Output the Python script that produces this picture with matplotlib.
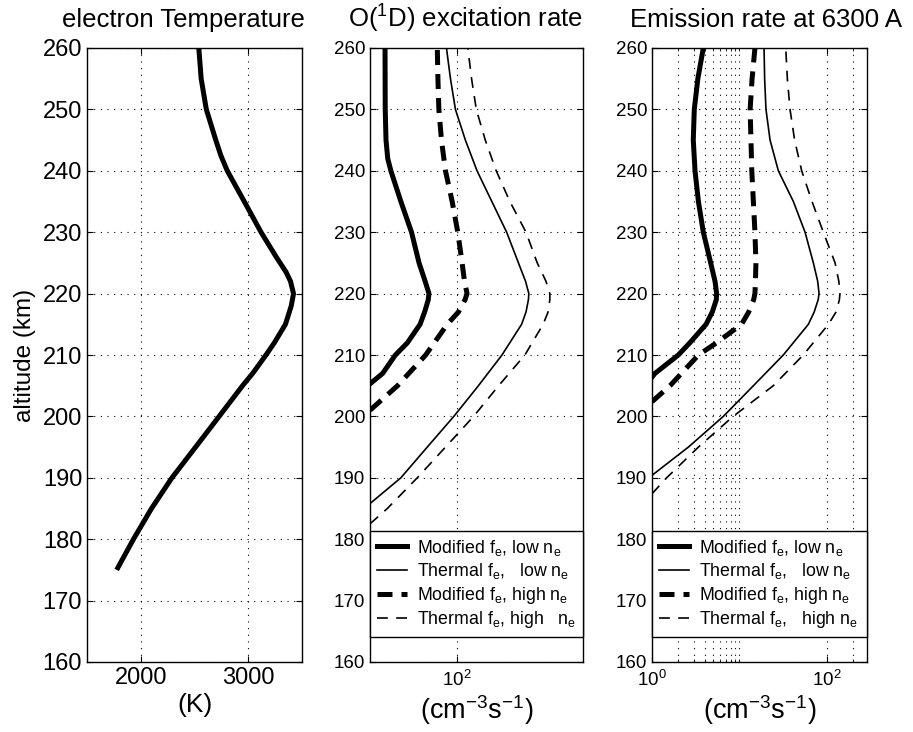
import numpy as np
import matplotlib
matplotlib.use('Agg')
import matplotlib.pyplot as plt
from matplotlib.ticker import FixedLocator, NullFormatter, LogFormatterMathtext, NullLocator

plt.rcParams['font.family'] = ['Liberation Sans', 'DejaVu Sans']
plt.rcParams['mathtext.fontset'] = 'custom'
plt.rcParams['mathtext.rm'] = 'Liberation Sans'
plt.rcParams['mathtext.it'] = 'Liberation Sans:italic'
plt.rcParams['mathtext.bf'] = 'Liberation Sans:bold'

# electron temperature profile (K)
alt_te = [175, 180, 185, 190, 195, 200, 205, 207, 210, 212, 215, 218, 220, 222, 223.5, 226, 230, 235, 240, 242.5, 245, 250, 255, 260]
te = [1776, 1932, 2100, 2290, 2510, 2729, 2947, 3041, 3165, 3243, 3346, 3400, 3421, 3393, 3352, 3259, 3119, 2963, 2805, 2745, 2698, 2610, 2562, 2540]

# O(1D) excitation rate (cm^-3 s^-1)
alt_exc_mod_low = [205.3, 207, 210, 212, 215, 217, 219, 220, 222, 225, 230, 235, 240, 242, 245, 250, 260]
exc_mod_low = [26, 31.6, 38.5, 46.4, 56.4, 60.5, 64, 64.7, 61, 55.5, 49.4, 41.9, 35.9, 34.2, 33.3, 32.9, 32.8]
alt_exc_th_low = [185.8, 190, 195, 200, 205, 210, 215, 217, 219, 220, 222, 225, 230, 235, 240, 245, 250, 255, 260]
exc_th_low = [26, 41.9, 63, 95, 139, 200, 271, 290, 301, 303, 288, 258, 215, 171, 136, 113.6, 97.4, 90.2, 84.8]
alt_exc_mod_high = [201, 205, 210, 215, 217, 219, 220, 222, 225, 230, 235, 240, 245, 250, 255, 260]
exc_mod_high = [26, 39.8, 61.5, 85.8, 102, 113, 116.6, 112, 108, 101, 92.6, 83.5, 78.5, 75.4, 74.3, 73.6]
alt_exc_th_high = [182.5, 185, 190, 195, 200, 205, 210, 215, 217, 219, 220, 222, 225, 230, 235, 240, 245, 250, 255, 260]
exc_th_high = [26, 34, 54, 83.5, 129, 190, 285, 378, 408, 419, 419, 395, 345, 290, 226, 183, 154.5, 134.5, 125, 118]

# emission rate at 6300 A
alt_em_mod_low = [206.4, 207, 210, 212, 215, 217, 219, 220, 222, 225, 230, 235, 240, 245, 250, 255, 260]
em_mod_low = [1.0, 1.08, 2.0, 2.72, 4.16, 4.9, 5.45, 5.5, 5.27, 4.7, 3.87, 3.4, 3.11, 2.97, 3.05, 3.35, 3.87]
alt_em_th_low = [190.4, 195, 200, 205, 210, 215, 217, 219, 220, 222, 225, 230, 235, 240, 245, 250, 255, 260]
em_th_low = [1.0, 2.61, 6.56, 14.5, 31.9, 61.8, 72, 80, 81.9, 79, 70.5, 56.6, 41.6, 28, 22.5, 20.2, 19.5, 19.2]
alt_em_mod_high = [202.4, 205, 210, 212, 215, 217, 219, 220, 222, 225, 230, 240, 250, 255, 260]
em_mod_high = [1.0, 1.61, 3.4, 5.5, 10.6, 12.8, 14.6, 15.1, 15.3, 15.5, 15.1, 13.9, 13.3, 14.0, 15.1]
alt_em_th_high = [187.4, 190, 195, 200, 205, 210, 215, 217, 219, 220, 222, 225, 230, 235, 240, 245, 250, 255, 260]
em_th_high = [1.0, 1.47, 3.4, 8.5, 24.5, 54, 105, 128, 140, 142, 138, 125, 91.7, 68, 51.8, 43, 38.1, 35.5, 34]

labels_mid = ['Modified f$_\\mathrm{e}$, low n$_\\mathrm{e}$',
              'Thermal f$_\\mathrm{e}$,   low n$_\\mathrm{e}$',
              'Modified f$_\\mathrm{e}$, high n$_\\mathrm{e}$',
              'Thermal f$_\\mathrm{e}$, high   n$_\\mathrm{e}$']
labels_right = labels_mid[:3] + ['Thermal f$_\\mathrm{e}$,   high n$_\\mathrm{e}$']

W, H = 913, 732
fig = plt.figure(figsize=(W / 100, H / 100), dpi=100)

def px_axes(x0, x1, y0, y1):
    return fig.add_axes([x0 / W, 1 - y1 / H, (x1 - x0) / W, (y1 - y0) / H])

ax1 = px_axes(87, 302, 48, 662)
ax2 = px_axes(370, 583, 48, 662)
ax3 = px_axes(652, 867, 48, 662)

grid_kw = dict(color='black', linestyle=(0, (1, 5)), linewidth=0.8)
thick = 3.6
thin = 1.2
thick_dash = (0, (3.0, 1.8))
thin_dash = (0, (6.5, 5.0))

for ax in (ax1, ax2, ax3):
    ax.set_ylim(160, 260)
    ax.set_yticks(np.arange(160, 261, 10))
    ax.tick_params(direction='in', top=True, right=True, length=4, width=0.8)
    for s in ax.spines.values():
        s.set_linewidth(1.0)

# left: electron temperature
ax1.plot(te, alt_te, color='black', linewidth=thick, solid_capstyle='butt', solid_joinstyle='round')
ax1.set_xlim(1500, 3500)
ax1.set_xticks([2000, 3000])
ax1.grid(True, **grid_kw)
ax1.tick_params(labelsize=17)
ax1.set_title('electron Temperature', fontsize=18.5, pad=15, x=0.45)
ax1.set_xlabel('(K)', fontsize=19, labelpad=3)
ax1.set_ylabel('altitude (km)', fontsize=17.5, labelpad=5)

# middle: excitation rate
ax2.plot(exc_mod_low, alt_exc_mod_low, color='black', linewidth=thick)
ax2.plot(exc_th_low, alt_exc_th_low, color='black', linewidth=thin)
ax2.plot(exc_mod_high, alt_exc_mod_high, color='black', linewidth=thick, linestyle=thick_dash)
ax2.plot(exc_th_high, alt_exc_th_high, color='black', linewidth=thin, linestyle=thin_dash)
ax2.set_xscale('log')
ax2.set_xlim(26, 700)
ax2.xaxis.set_major_locator(FixedLocator([100]))
ax2.xaxis.set_major_formatter(LogFormatterMathtext())
ax2.xaxis.set_minor_locator(NullLocator())
ax2.grid(True, **grid_kw)
ax2.tick_params(labelsize=13.5)
ax2.tick_params(axis='x', pad=6)
ax2.set_title('O($^1$D) excitation rate', fontsize=18.5, pad=15, x=0.45)
ax2.set_xlabel('(cm$^{-3}$s$^{-1}$)', fontsize=19.5, labelpad=2)

# right: emission rate
ax3.plot(em_mod_low, alt_em_mod_low, color='black', linewidth=thick)
ax3.plot(em_th_low, alt_em_th_low, color='black', linewidth=thin)
ax3.plot(em_mod_high, alt_em_mod_high, color='black', linewidth=thick, linestyle=thick_dash)
ax3.plot(em_th_high, alt_em_th_high, color='black', linewidth=thin, linestyle=thin_dash)
ax3.set_xscale('log')
ax3.set_xlim(1, 290)
ax3.xaxis.set_major_locator(FixedLocator([1, 100]))
ax3.xaxis.set_major_formatter(LogFormatterMathtext())
ax3.xaxis.set_minor_locator(FixedLocator([2, 3, 4, 5, 6, 7, 8, 9, 10, 200]))
ax3.xaxis.set_minor_formatter(NullFormatter())
ax3.tick_params(which='minor', direction='in', top=True, length=2.5)
ax3.grid(True, which='both', axis='x', **grid_kw)
ax3.grid(True, which='major', axis='y', **grid_kw)
ax3.tick_params(labelsize=13.5)
ax3.tick_params(axis='x', pad=6)
ax3.set_title('Emission rate at 6300 A', fontsize=18.5, pad=15, x=0.53)
ax3.set_xlabel('(cm$^{-3}$s$^{-1}$)', fontsize=19.5, labelpad=2)

for ax, labels in ((ax2, labels_mid), (ax3, labels_right)):
    leg = ax.legend(ax.get_lines(), labels, loc='lower left',
                    bbox_to_anchor=(0, 0.04, 1, 0.175), mode='expand',
                    borderaxespad=0, fontsize=12.8, handlelength=1.7,
                    handletextpad=0.55, labelspacing=0.2, borderpad=0.4,
                    fancybox=False, framealpha=1, edgecolor='black')
    leg.get_frame().set_linewidth(1.0)

fig.savefig('out.png', dpi=100)
